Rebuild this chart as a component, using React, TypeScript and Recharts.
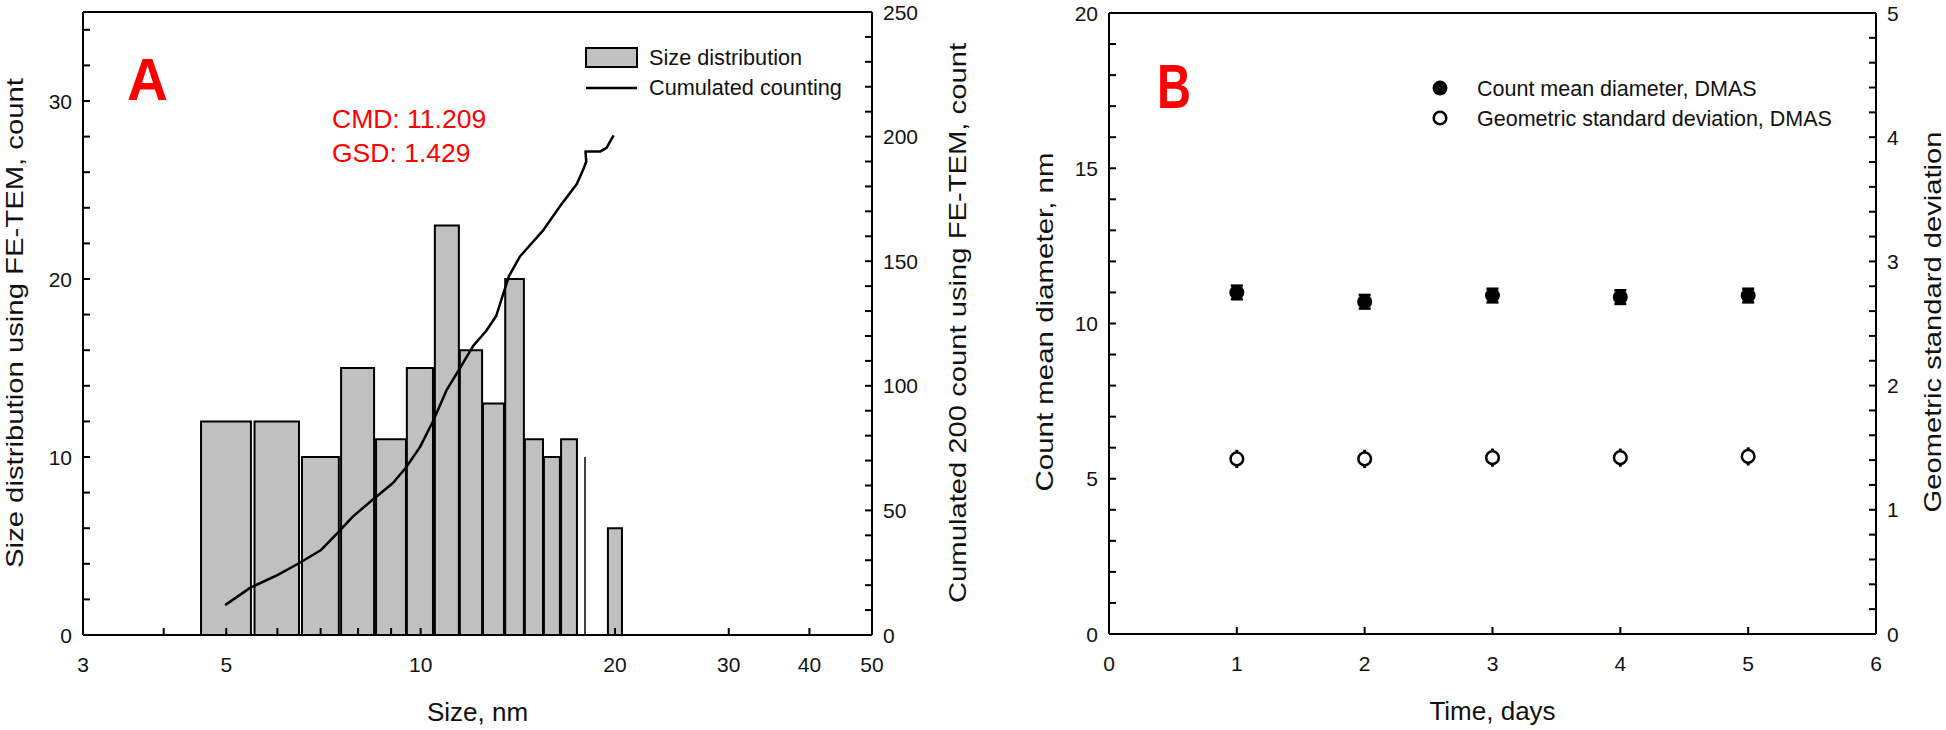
import React from 'react';
import {
  ComposedChart,
  Line,
  XAxis,
  YAxis,
  ReferenceArea,
  ReferenceLine,
  Scatter,
  ErrorBar,
  Legend,
  Label,
} from 'recharts';

const FONT = '"Liberation Sans", Arial, Helvetica, sans-serif';
const INK = '#111';

// ---------------- Panel A: size distribution (FE-TEM) ----------------
const binCenters = [5, 6, 7, 8, 9, 10, 11, 12, 13, 14, 15, 16, 17, 18, 20];
const binLower = [4.57, 5.53, 6.55, 7.53, 8.53, 9.52, 10.52, 11.5, 12.49, 13.52, 14.5, 15.52, 16.5, 17.97, 19.5];
const binUpper = [5.46, 6.48, 7.47, 8.47, 9.49, 10.45, 11.46, 12.45, 13.46, 14.45, 15.47, 16.43, 17.46, 17.97, 20.5];
const binCounts = [12, 12, 10, 15, 11, 15, 23, 16, 13, 20, 11, 10, 11, 10, 6];

const cumSizes = [4.98, 5.45, 6.0, 6.5, 7.0, 7.47, 7.85, 8.4, 9.06, 9.48, 9.98, 10.46, 10.98, 11.5, 12.06, 12.63, 13.09, 13.39, 13.7, 14.26, 14.6, 15.49, 16.43, 17.45, 17.87, 18.05, 18.0, 18.96, 19.4, 19.9];
const cumCounts = [12, 19, 24, 29, 34, 41.5, 47.5, 54, 61, 67, 75.5, 86, 98.5, 107, 116, 122, 128, 136, 144, 152, 155, 162.5, 172, 181, 187, 190, 194, 194, 195.5, 200.5];

const sizeTicks = [3, 4, 5, 6, 7, 8, 9, 10, 20, 30, 40, 50];
const sizeTickLabels = [3, 5, 10, 20, 30, 40, 50];
const countTicks = [0, 2, 4, 6, 8, 10, 12, 14, 16, 18, 20, 22, 24, 26, 28, 30, 32, 34];
const countTickLabels = [0, 10, 20, 30];
const cumTicks = [0, 10, 20, 30, 40, 50, 60, 70, 80, 90, 100, 110, 120, 130, 140, 150, 160, 170, 180, 190, 200, 210, 220, 230, 240, 250];
const cumTickLabels = [0, 50, 100, 150, 200, 250];

const cmdText = 'CMD: 11.209';
const gsdText = 'GSD: 1.429';

// ---------------- Panel B: DMAS over time ----------------
const days = [1, 2, 3, 4, 5];
const cmdValues = [11.0, 10.7, 10.9, 10.85, 10.9];
const cmdErrors = [0.22, 0.22, 0.22, 0.22, 0.22];
const gsdValues = [1.41, 1.41, 1.42, 1.42, 1.43];
const gsdErrors = [0.065, 0.065, 0.065, 0.065, 0.065];

const dayTicks = [0, 1, 2, 3, 4, 5, 6];
const cmdTicks = [0, 1, 2, 3, 4, 5, 6, 7, 8, 9, 10, 11, 12, 13, 14, 15, 16, 17, 18, 19, 20];
const cmdTickLabels = [0, 5, 10, 15, 20];
const gsdTicks = [0, 0.2, 0.4, 0.6, 0.8, 1, 1.2, 1.4, 1.6, 1.8, 2, 2.2, 2.4, 2.6, 2.8, 3, 3.2, 3.4, 3.6, 3.8, 4, 4.2, 4.4, 4.6, 4.8, 5];
const gsdTickLabels = [0, 1, 2, 3, 4, 5];

const legendAItems = ['Size distribution', 'Cumulated counting'];
const legendBItems = ['Count mean diameter, DMAS', 'Geometric standard deviation, DMAS'];

// ---------- derived tables ----------
const bins = binCenters.map((c, i) => ({ center: c, lo: binLower[i], hi: binUpper[i], count: binCounts[i] }));
const cumData = cumSizes.map((s, i) => ({ size: s, cum: cumCounts[i] }));
const cmdData = days.map((d, i) => ({ day: d, cmd: cmdValues[i], err: cmdErrors[i] }));
const gsdData = days.map((d, i) => ({ day: d, gsd: gsdValues[i], err: gsdErrors[i] }));

// ---------- tick renderers (inward ticks, SigmaPlot style) ----------
const TICK_LEN = 7;
const TICK_FS = 21;

const bottomTick = (labels: number[]) => (props: any) => {
  const { x, y, payload } = props;
  const v = payload.value;
  return (
    <g>
      <line x1={x} y1={y} x2={x} y2={y - TICK_LEN} stroke="#000" strokeWidth={2} />
      {labels.includes(v) && (
        <text x={x} y={y + 22} dy="0.71em" textAnchor="middle" fontFamily={FONT} fontSize={TICK_FS} fill={INK}>
          {v}
        </text>
      )}
    </g>
  );
};

const topTick = (props: any) => {
  const { x, y } = props;
  return <line x1={x} y1={y} x2={x} y2={y + TICK_LEN} stroke="#000" strokeWidth={2} />;
};

const leftTick = (labels: number[]) => (props: any) => {
  const { x, y, payload } = props;
  const v = payload.value;
  return (
    <g>
      <line x1={x} y1={y} x2={x + TICK_LEN} y2={y} stroke="#000" strokeWidth={2} />
      {labels.includes(v) && (
        <text x={x - 11} y={y} dy="0.36em" textAnchor="end" fontFamily={FONT} fontSize={TICK_FS} fill={INK}>
          {v}
        </text>
      )}
    </g>
  );
};

const rightTick = (labels: number[]) => (props: any) => {
  const { x, y, payload } = props;
  const v = payload.value;
  return (
    <g>
      <line x1={x} y1={y} x2={x - TICK_LEN} y2={y} stroke="#000" strokeWidth={2} />
      {labels.includes(v) && (
        <text x={x + 11} y={y} dy="0.36em" textAnchor="start" fontFamily={FONT} fontSize={TICK_FS} fill={INK}>
          {v}
        </text>
      )}
    </g>
  );
};

// ---------- axis titles ----------
const rotTitle = (text: string, dx: number, cy: number, len: number) => (props: any) => {
  const vb = props.viewBox || { x: 0, y: 0, width: 0, height: 0 };
  const cx = vb.x + dx;
  return (
    <text
      x={cx}
      y={cy}
      transform={`rotate(-90, ${cx}, ${cy})`}
      textAnchor="middle"
      dominantBaseline="central"
      fontFamily={FONT}
      fontSize={24}
      textLength={len}
      lengthAdjust="spacingAndGlyphs"
      fill={INK}
    >
      {text}
    </text>
  );
};

const xTitle = (text: string, dy: number) => (props: any) => {
  const vb = props.viewBox || { x: 0, y: 0, width: 0, height: 0 };
  return (
    <text x={vb.x + vb.width / 2} y={vb.y + dy} textAnchor="middle" fontFamily={FONT} fontSize={26} fill={INK}>
      {text}
    </text>
  );
};

// ---------- legends ----------
const LegendA = () => (
  <svg width={330} height={70} style={{ display: 'block', overflow: 'visible' }}>
    <rect x={6} y={8} width={51} height={19} fill="#c0c0c0" stroke="#000" strokeWidth={2} />
    <text x={69} y={25} fontFamily={FONT} fontSize={21.7} fill={INK}>
      {legendAItems[0]}
    </text>
    <line x1={6} y1={48} x2={57} y2={48} stroke="#000" strokeWidth={2.5} />
    <text x={69} y={55} fontFamily={FONT} fontSize={21.7} fill={INK}>
      {legendAItems[1]}
    </text>
  </svg>
);

const LegendB = () => (
  <svg width={420} height={70} style={{ display: 'block', overflow: 'visible' }}>
    <circle cx={20} cy={18} r={7.5} fill="#000" />
    <text x={57} y={26} fontFamily={FONT} fontSize={21.5} fill={INK}>
      {legendBItems[0]}
    </text>
    <circle cx={20} cy={48} r={6.3} fill="#fff" stroke="#000" strokeWidth={2.5} />
    <text x={57} y={56} fontFamily={FONT} fontSize={21.5} fill={INK}>
      {legendBItems[1]}
    </text>
  </svg>
);

const axisLine = { stroke: '#000', strokeWidth: 2 };

const PanelA = () => (
  <ComposedChart width={980} height={730} margin={{ top: 0, right: 0, bottom: 0, left: 0 }}>
    <XAxis
      xAxisId="top"
      orientation="top"
      type="number"
      scale="log"
      domain={[3, 50]}
      allowDataOverflow
      ticks={sizeTicks}
      interval={0}
      height={12}
      tickSize={0}
      tickMargin={0}
      tickLine={false}
      axisLine={axisLine}
      tick={topTick}
    />
    <XAxis
      xAxisId="bottom"
      dataKey="size"
      type="number"
      scale="log"
      domain={[3, 50]}
      allowDataOverflow
      ticks={sizeTicks}
      interval={0}
      height={95}
      tickSize={0}
      tickMargin={0}
      tickLine={false}
      axisLine={axisLine}
      tick={bottomTick(sizeTickLabels)}
    >
      <Label content={xTitle('Size, nm', 86)} />
    </XAxis>
    <YAxis
      yAxisId="left"
      type="number"
      domain={[0, 35]}
      allowDataOverflow
      ticks={countTicks}
      interval={0}
      width={83}
      tickSize={0}
      tickMargin={0}
      tickLine={false}
      axisLine={axisLine}
      tick={leftTick(countTickLabels)}
    >
      <Label content={rotTitle('Size distribution using FE-TEM, count', 14, 323, 490)} />
    </YAxis>
    <YAxis
      yAxisId="right"
      orientation="right"
      dataKey="cum"
      type="number"
      domain={[0, 250]}
      allowDataOverflow
      ticks={cumTicks}
      interval={0}
      width={108}
      tickSize={0}
      tickMargin={0}
      tickLine={false}
      axisLine={axisLine}
      tick={rightTick(cumTickLabels)}
    >
      <Label content={rotTitle('Cumulated 200 count using FE-TEM, count', 85, 323, 560)} />
    </YAxis>
    {bins.map((b) =>
      b.hi > b.lo ? (
        <ReferenceArea
          key={b.center}
          xAxisId="bottom"
          yAxisId="left"
          x1={b.lo}
          x2={b.hi}
          y1={0}
          y2={b.count}
          fill="#c0c0c0"
          fillOpacity={1}
          stroke="#000"
          strokeWidth={2}
          ifOverflow="visible"
        />
      ) : (
        <ReferenceLine
          key={b.center}
          xAxisId="bottom"
          yAxisId="left"
          segment={[
            { x: b.lo, y: 0 },
            { x: b.lo, y: b.count },
          ]}
          stroke="#000"
          strokeWidth={1.5}
          ifOverflow="visible"
        />
      )
    )}
    <Line
      xAxisId="bottom"
      yAxisId="right"
      data={cumData}
      dataKey="cum"
      type="linear"
      stroke="#000"
      strokeWidth={2.5}
      strokeLinejoin="round"
      dot={false}
      activeDot={false}
      isAnimationActive={false}
      name={legendAItems[1]}
    />
    <Legend
      layout="horizontal"
      verticalAlign="middle"
      align="center"
      content={() => <LegendA />}
      wrapperStyle={{ left: 580, top: 40, width: 330, height: 70, margin: 0 }}
    />
  </ComposedChart>
);

const PanelB = () => (
  <ComposedChart width={966} height={730} margin={{ top: 0, right: 0, bottom: 0, left: 0 }}>
    <XAxis
      xAxisId="top"
      orientation="top"
      type="number"
      domain={[0, 6]}
      allowDataOverflow
      ticks={dayTicks}
      interval={0}
      height={13}
      tickSize={0}
      tickMargin={0}
      tickLine={false}
      axisLine={axisLine}
      tick={topTick}
    />
    <XAxis
      xAxisId="bottom"
      dataKey="day"
      type="number"
      domain={[0, 6]}
      allowDataOverflow
      ticks={dayTicks}
      interval={0}
      height={96}
      tickSize={0}
      tickMargin={0}
      tickLine={false}
      axisLine={axisLine}
      tick={bottomTick(dayTicks)}
    >
      <Label content={xTitle('Time, days', 86)} />
    </XAxis>
    <YAxis
      yAxisId="left"
      dataKey="cmd"
      type="number"
      domain={[0, 20]}
      allowDataOverflow
      ticks={cmdTicks}
      interval={0}
      width={129}
      tickSize={0}
      tickMargin={0}
      tickLine={false}
      axisLine={axisLine}
      tick={leftTick(cmdTickLabels)}
    >
      <Label content={rotTitle('Count mean diameter, nm', 64, 322, 339)} />
    </YAxis>
    <YAxis
      yAxisId="right"
      orientation="right"
      dataKey="gsd"
      type="number"
      domain={[0, 5]}
      allowDataOverflow
      ticks={gsdTicks}
      interval={0}
      width={70}
      tickSize={0}
      tickMargin={0}
      tickLine={false}
      axisLine={axisLine}
      tick={rightTick(gsdTickLabels)}
    >
      <Label content={rotTitle('Geometric standard deviation', 56, 322, 381)} />
    </YAxis>
    <Scatter
      xAxisId="bottom"
      yAxisId="left"
      data={cmdData}
      dataKey="cmd"
      name={legendBItems[0]}
      isAnimationActive={false}
      shape={(p: any) => <circle cx={p.cx} cy={p.cy} r={7.5} fill="#000" />}
    >
      <ErrorBar dataKey="err" direction="y" width={6} stroke="#000" strokeWidth={2.5} isAnimationActive={false} />
    </Scatter>
    <Scatter
      xAxisId="bottom"
      yAxisId="right"
      data={gsdData}
      dataKey="gsd"
      name={legendBItems[1]}
      isAnimationActive={false}
      shape={(p: any) => <circle cx={p.cx} cy={p.cy} r={6.3} fill="#fff" stroke="#000" strokeWidth={2.5} />}
    >
      <ErrorBar dataKey="err" direction="y" width={1.5} stroke="#000" strokeWidth={2} isAnimationActive={false} />
    </Scatter>
    <Legend
      layout="horizontal"
      verticalAlign="middle"
      align="center"
      content={() => <LegendB />}
      wrapperStyle={{ left: 440, top: 70, width: 420, height: 70, margin: 0 }}
    />
  </ComposedChart>
);

export default function App() {
  return (
    <div style={{ position: 'absolute', left: 0, top: 0, width: 1946, height: 730, background: '#fff', overflow: 'hidden' }}>
      <div style={{ position: 'absolute', left: 0, top: 0 }}>
        <PanelA />
      </div>
      <div style={{ position: 'absolute', left: 980, top: 0 }}>
        <PanelB />
      </div>
      <svg
        width={1946}
        height={730}
        style={{ position: 'absolute', left: 0, top: 0, pointerEvents: 'none' }}
      >
        <text x={127} y={100} fontFamily={FONT} fontWeight="bold" fontSize={60} fill="#ff0000" textLength={41} lengthAdjust="spacingAndGlyphs">
          A
        </text>
        <text x={332} y={128} fontFamily={FONT} fontSize={26.5} fill="#ff0000">
          {cmdText}
        </text>
        <text x={332} y={162} fontFamily={FONT} fontSize={26.5} fill="#ff0000">
          {gsdText}
        </text>
        <text x={1157} y={108} fontFamily={FONT} fontWeight="bold" fontSize={63} fill="#ff0000" textLength={34} lengthAdjust="spacingAndGlyphs">
          B
        </text>
      </svg>
    </div>
  );
}
